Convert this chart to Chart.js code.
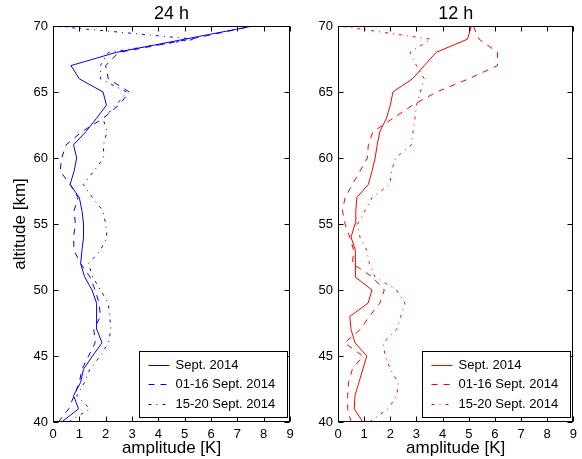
<!DOCTYPE html>
<html><head><meta charset="utf-8">
<script src="https://cdn.jsdelivr.net/npm/chart.js@4/dist/chart.umd.min.js"></script>
<style>
html,body{margin:0;padding:0;background:#fff;overflow:hidden}
#wrap{position:relative;width:582px;height:459px;background:#fff}
canvas{position:absolute;left:0;top:0}
</style></head><body>
<div id="wrap"><canvas id="c1"></canvas><canvas id="c2"></canvas></div>
<script>
// ---- data ----
const altitudes = [40,41,42,43,44,45,46,47,48,49,50,51,52,53,54,55,56,57,58,59,60,61,62,63,64,65,66,67,68,69,70];
const seriesLabels = ['Sept. 2014', '01-16 Sept. 2014', '15-20 Sept. 2014'];
const panelTitles = ['24 h', '12 h'];
const xTickValues = [0,1,2,3,4,5,6,7,8,9];
const yTickValues = [40,45,50,55,60,65,70];

// 24 h amplitudes [K]
const amp24Sept   = [0.33,0.97,0.78,1.05,1.16,1.5,1.86,1.67,1.66,1.65,1.48,1.2,1.05,1.1,1.16,1.16,1.1,1.0,0.65,0.8,0.9,0.78,1.25,1.65,2.03,1.9,1.0,0.68,2.4,5.0,7.6];
const amp24Early  = [0.2,0.6,0.8,1.0,1.1,1.35,1.6,1.55,1.8,1.75,1.6,1.4,1.05,0.8,0.78,0.85,0.8,0.95,0.65,0.27,0.33,0.5,1.1,1.9,2.5,2.9,2.1,2.0,2.5,5.2,7.6];
const amp24Late   = [0.6,1.4,0.9,1.2,1.4,1.8,2.1,2.2,2.15,2.1,1.8,1.5,1.35,1.8,2.05,2.0,1.9,1.5,1.15,1.55,1.92,1.92,2.05,1.9,2.4,2.8,1.8,1.8,2.1,5.4,0.0];
// 12 h amplitudes [K]
const amp12Sept   = [0.95,0.62,0.65,0.8,0.95,1.1,0.65,0.5,0.45,1.15,1.3,0.65,0.65,0.68,0.5,0.65,0.68,0.72,1.16,1.3,1.42,1.5,1.6,1.85,2.0,2.1,2.85,3.3,3.75,4.95,5.1];
const amp12Early  = [0.5,0.37,0.37,0.4,0.55,0.95,0.25,0.85,1.2,1.6,1.77,1.3,0.55,0.6,0.45,0.27,0.17,0.27,0.55,0.84,1.12,1.16,1.34,2.1,2.85,3.77,5.0,6.1,6.1,5.4,5.17];
const amp12Late   = [1.2,1.92,2.25,2.3,2.0,1.8,1.73,2.24,2.4,2.56,2.24,1.41,1.2,1.1,0.84,0.75,1.03,1.3,1.98,2.05,2.2,2.81,2.87,2.94,3.0,3.15,3.3,3.0,2.75,3.55,0.05];

// ---- styling ----
const FONT = 'Liberation Sans';
const dashes = [[], [6,6], [3,5,1,5]];

function pts(vals){ return vals.map((v,i)=>({x:v, y:altitudes[i]})); }

const framePlugin = {
  id:'frame',
  afterDatasetsDraw(chart){
    const {ctx, chartArea:a, scales} = chart;
    const x = scales.x, y = scales.y;
    ctx.save();
    ctx.strokeStyle = '#000'; ctx.lineWidth = 1; ctx.setLineDash([]);
    const L = Math.round(a.left)+0.5, R = Math.round(a.right)-0.5, T = Math.round(a.top)+0.5, B = Math.round(a.bottom)-0.5;
    ctx.strokeRect(L, T, R-L, B-T);
    ctx.beginPath();
    const tl = 5;
    xTickValues.forEach(v=>{
      const p = Math.round(x.getPixelForValue(v))+0.5;
      ctx.moveTo(p,B); ctx.lineTo(p,B-tl);
      ctx.moveTo(p,T); ctx.lineTo(p,T+tl);
    });
    yTickValues.forEach(v=>{
      const p = Math.round(y.getPixelForValue(v))+0.5;
      ctx.moveTo(L,p); ctx.lineTo(L+tl,p);
      ctx.moveTo(R,p); ctx.lineTo(R-tl,p);
    });
    ctx.stroke();
    // legend
    const bx = Math.round(a.right) - 151 + 0.5, by = Math.round(a.bottom) - 71 + 0.5;
    const bw = 148, bh = 66;
    ctx.fillStyle = '#fff';
    ctx.fillRect(bx, by, bw, bh);
    ctx.strokeRect(bx, by, bw, bh);
    ctx.font = '13px "' + FONT + '"';
    ctx.textBaseline = 'middle';
    ctx.textAlign = 'left';
    const rows = [-57, -38, -18];
    chart.data.datasets.forEach((ds,i)=>{
      const yy = Math.round(a.bottom) + rows[i] + 0.5;
      ctx.strokeStyle = ds.borderColor; ctx.lineWidth = 1;
      ctx.setLineDash(ds.borderDash || []);
      ctx.beginPath(); ctx.moveTo(bx+9, yy); ctx.lineTo(bx+30, yy); ctx.stroke();
      ctx.setLineDash([]);
      ctx.fillStyle = '#000';
      ctx.fillText(ds.label, bx+36, yy);
    });
    ctx.restore();
  }
};

function makeChart(id, title, data, color, padLeft, padRight, yWidth, showYTitle){
  const cv = document.getElementById(id);
  cv.width = 582; cv.height = 459;
  cv.style.width = '582px'; cv.style.height = '459px';
  return new Chart(cv, {
    type:'line',
    data:{ datasets: data.map((d,i)=>({
      label: seriesLabels[i], data: pts(d), borderColor: color, borderWidth: 1,
      borderDash: dashes[i], pointRadius: 0, tension: 0, fill: false
    }))},
    options:{
      responsive:false, animation:false, devicePixelRatio:1,
      layout:{padding:{left:padLeft, right:padRight, top:0, bottom:0}},
      plugins:{
        legend:{display:false}, tooltip:{enabled:false},
        title:{display:true, text:title, fullSize:false, color:'#000',
               font:{family:FONT, size:18, weight:'normal', lineHeight:1},
               padding:{top:5,bottom:3}}
      },
      scales:{
        x:{type:'linear', min:0, max:9, position:'bottom',
           grid:{display:false, drawTicks:false}, border:{display:false},
           afterBuildTicks(s){ s.ticks = xTickValues.map(v=>({value:v})); },
           afterFit(s){ s.height = 37; },
           ticks:{color:'#000', font:{family:FONT, size:13}, padding:5, maxRotation:0, autoSkip:false},
           title:{display:true, text:'amplitude [K]', color:'#000', font:{family:FONT, size:17, lineHeight:1.2}, padding:{top:0,bottom:0}}
        },
        y:{type:'linear', min:40, max:70, position:'left',
           grid:{display:false, drawTicks:false}, border:{display:false},
           afterBuildTicks(s){ s.ticks = yTickValues.map(v=>({value:v})); },
           afterFit(s){ s.width = yWidth; },
           ticks:{color:'#000', font:{family:FONT, size:13}, padding:5, autoSkip:false},
           title:{display:showYTitle, text:'altitude [km]', color:'#000', font:{family:FONT, size:17, lineHeight:1.2}, padding:{top:10,bottom:0}}
        }
      }
    },
    plugins:[framePlugin]
  });
}

makeChart('c1', panelTitles[0], [amp24Sept, amp24Early, amp24Late], '#0000ff', 0, 292, 53, true);
makeChart('c2', panelTitles[1], [amp12Sept, amp12Early, amp12Late], '#ff0000', 300, 7, 38, false);
</script>
</body></html>
